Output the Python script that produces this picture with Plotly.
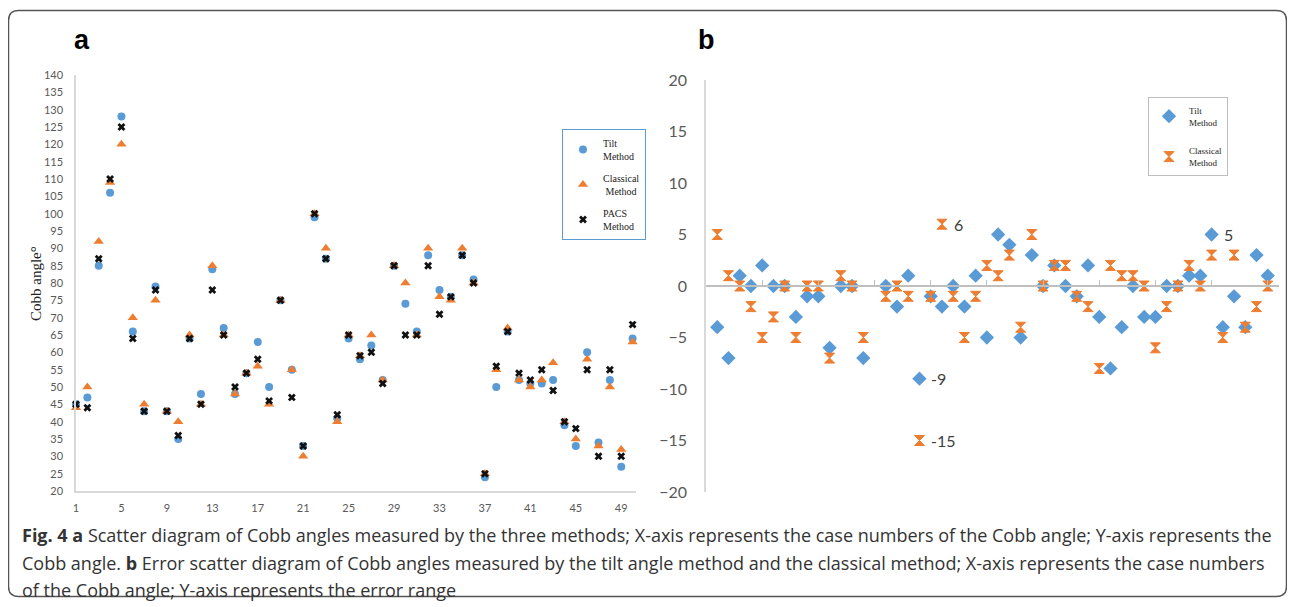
import plotly.graph_objects as go

# page offset (browser body margin) and figure size
OX, OY = 8, 8
W, H = 1287, 599

# ---------------- data ----------------
cases = list(range(1, 51))
tilt = [45, 47, 85, 106, 128, 66, 43, 79, 43, 35, 64, 48, 84, 67, 48, 54, 63, 50, 75, 55,
        33, 99, 87, 41, 64, 58, 62, 52, 85, 74, 66, 88, 78, 76, 88, 81, 24, 50, 66, 52,
        51, 51, 52, 39, 33, 60, 34, 52, 27, 64]
classical = [44, 50, 92, 109, 120, 70, 45, 75, 43, 40, 65, 45, 85, 65, 48, 54, 56, 45, 75, 55,
             30, 100, 90, 40, 65, 59, 65, 52, 85, 80, 65, 90, 76, 75, 90, 80, 25, 55, 67, 52,
             50, 52, 57, 40, 35, 58, 33, 50, 32, 63]
pacs = [45, 44, 87, 110, 125, 64, 43, 78, 43, 36, 64, 45, 78, 65, 50, 54, 58, 46, 75, 47,
        33, 100, 87, 42, 65, 59, 60, 51, 85, 65, 65, 85, 71, 76, 88, 80, 25, 56, 66, 54,
        52, 55, 49, 40, 38, 55, 30, 55, 30, 68]

tilt_err = [-4, -7, 1, 0, 2, 0, 0, -3, -1, -1, -6, 0, 0, -7, None, 0, -2, 1, -9, -1,
            -2, 0, -2, 1, -5, 5, 4, -5, 3, 0, 2, 0, -1, 2, -3, -8, -4, 0, -3, -3,
            0, 0, 1, 1, 5, -4, -1, -4, 3, 1]
classical_err = [5, 1, 0, -2, -5, -3, 0, -5, 0, 0, -7, 1, 0, -5, None, -1, 0, -1, -15, -1,
                 6, -1, -5, -1, 2, 1, 3, -4, 5, 0, 2, 2, -1, -2, -8, 2, 1, 1, 0, -6,
                 -2, 0, 2, 0, 3, -5, 3, -4, -2, 0]

a_xticks = [1, 5, 9, 13, 17, 21, 25, 29, 33, 37, 41, 45, 49]
a_yticks = list(range(20, 141, 5))
b_yticks = list(range(-20, 21, 5))
b_xticks = list(range(5, 51, 5))

# labelled outliers in panel b: (case index, series)
b_labels = [(19, "tilt"), (19, "classical"), (21, "classical"), (45, "tilt")]

BLUE = "#5B9BD5"
ORANGE = "#ED7D31"


def fx(px):
    return (px - OX) / W


def fy(py):
    return 1 - (py - OY) / H


fig = go.Figure()

# ---------------- panel a ----------------
fig.add_trace(go.Scatter(x=cases, y=tilt, mode="markers", name="Tilt<br>Method",
                         marker=dict(symbol="circle", size=8, color=BLUE),
                         xaxis="x", yaxis="y", legend="legend", legendgroup="t",
                         cliponaxis=False))
fig.add_trace(go.Scatter(x=cases, y=classical, mode="markers", name="Classical<br> Method",
                         marker=dict(symbol="triangle-up", size=9, color=ORANGE),
                         xaxis="x", yaxis="y", legend="legend", legendgroup="c",
                         cliponaxis=False))
fig.add_trace(go.Scatter(x=cases, y=pacs, mode="markers", name="PACS<br>Method",
                         marker=dict(symbol="x", size=7, color="#111111"),
                         xaxis="x", yaxis="y", legend="legend", legendgroup="p",
                         cliponaxis=False))

# ---------------- panel b ----------------
fig.add_trace(go.Scatter(x=cases, y=tilt_err, mode="markers", name="Tilt<br>Method",
                         marker=dict(symbol="diamond", size=11, color=BLUE),
                         xaxis="x2", yaxis="y2", legend="legend2", legendgroup="bt",
                         cliponaxis=False))
fig.add_trace(go.Scatter(x=cases, y=classical_err, mode="markers", name="Classical<br>Method",
                         marker=dict(symbol="hourglass", size=10, color=ORANGE,
                                     line=dict(color=ORANGE, width=1)),
                         xaxis="x2", yaxis="y2", legend="legend2", legendgroup="bc",
                         cliponaxis=False))

annotations = []
for idx, series in b_labels:
    val = tilt_err[idx - 1] if series == "tilt" else classical_err[idx - 1]
    annotations.append(dict(x=idx, y=val, xref="x2", yref="y2", text=str(val),
                            showarrow=False, xanchor="left", yanchor="middle", xshift=10,
                            font=dict(family="Lato", size=16, color="#404040")))

# panel letters
annotations.append(dict(x=fx(82), y=fy(40), xref="paper", yref="paper", text="<b>a</b>",
                        showarrow=False, xanchor="center", yanchor="middle",
                        font=dict(family="Liberation Sans", size=27, color="#000")))
annotations.append(dict(x=fx(706), y=fy(40), xref="paper", yref="paper", text="<b>b</b>",
                        showarrow=False, xanchor="center", yanchor="middle",
                        font=dict(family="Liberation Sans", size=27, color="#000")))

# y title of panel a
annotations.append(dict(x=fx(36), y=fy(284), xref="paper", yref="paper", text="Cobb angle°",
                        textangle=-90, showarrow=False, xanchor="center", yanchor="middle",
                        font=dict(family="Liberation Serif", size=15, color="#222")))

# caption
cap_font = dict(family="Open Sans", size=18, color="#333333")
cap_lines = [
    "<b>Fig. 4 a</b> Scatter diagram of Cobb angles measured by the three methods; X-axis represents the case numbers of the Cobb angle; Y-axis represents the",
    "Cobb angle. <b>b</b> Error scatter diagram of Cobb angles measured by the tilt angle method and the classical method; X-axis represents the case numbers",
    "of the Cobb angle; Y-axis represents the error range",
]
for i, line in enumerate(cap_lines):
    annotations.append(dict(x=fx(20), y=fy(535 + i * 27.5), xref="paper", yref="paper",
                            text=line, showarrow=False, xanchor="left", yanchor="middle",
                            font=cap_font))

# rounded frame
x0, y0, x1, y1, r = 8.5, 10.5, 1286.5, 596.5, 10
frame = (f"M {x0 + r},{y0} L {x1 - r},{y0} Q {x1},{y0} {x1},{y0 + r} "
         f"L {x1},{y1 - r} Q {x1},{y1} {x1 - r},{y1} L {x0 + r},{y1} "
         f"Q {x0},{y1} {x0},{y1 - r} L {x0},{y0 + r} Q {x0},{y0} {x0 + r},{y0} Z")


def to_paper_path(path):
    out = []
    for tok in path.split(" "):
        if "," in tok:
            a, b = tok.split(",")
            out.append(f"{fx(float(a)):.5f},{fy(float(b)):.5f}")
        else:
            out.append(tok)
    return " ".join(out)


shapes = [dict(type="path", xref="paper", yref="paper", path=to_paper_path(frame),
               line=dict(color="#555555", width=1.5), fillcolor="rgba(0,0,0,0)", layer="above")]

tickfont_a = dict(family="Lato", size=11, color="#595959")
tickfont_b = dict(family="Lato", size=16, color="#595959")

y2_dom = [fy(492), fy(80)]

fig.update_layout(
    width=W, height=H, margin=dict(l=0, r=0, t=0, b=0, pad=0, autoexpand=False),
    paper_bgcolor="white", plot_bgcolor="white",
    showlegend=True,
    xaxis=dict(domain=[fx(76), fx(636)], range=[1, 50.3], tickvals=a_xticks,
               showline=True, linecolor="#d9d9d9", linewidth=1.5, showgrid=False,
               zeroline=False, ticks="outside", ticklen=6, tickcolor="rgba(0,0,0,0)",
               tickfont=tickfont_a, anchor="y", automargin=False),
    yaxis=dict(domain=[fy(491), fy(75)], range=[20, 140], tickvals=a_yticks,
               showline=True, linecolor="#d9d9d9", linewidth=1.5, showgrid=False,
               zeroline=False, ticks="outside", ticklen=9, tickcolor="rgba(0,0,0,0)",
               tickfont=tickfont_a, anchor="x", automargin=False),
    xaxis2=dict(domain=[fx(706), fx(1279)], range=[0, 51], tickvals=b_xticks,
                showticklabels=False, showline=True, linecolor="#bfbfbf", linewidth=1.5,
                showgrid=False, zeroline=False, ticks="inside", ticklen=5,
                tickcolor="#bfbfbf", anchor="free", position=(y2_dom[0] + y2_dom[1]) / 2,
                automargin=False),
    yaxis2=dict(domain=y2_dom, range=[-20, 20], tickvals=b_yticks,
                showline=True, linecolor="#d9d9d9", linewidth=1.5, showgrid=False,
                zeroline=False, ticks="outside", ticklen=14, tickcolor="rgba(0,0,0,0)",
                tickfont=tickfont_b, anchor="x2", automargin=False),
    legend=dict(x=fx(562), y=fy(129), xanchor="left", yanchor="top",
                bordercolor="#5b9bd5", borderwidth=1, bgcolor="white",
                font=dict(family="Liberation Serif", size=10, color="#222"),
                traceorder="grouped", tracegroupgap=6, itemwidth=30),
    legend2=dict(x=fx(1148), y=fy(97), xanchor="left", yanchor="top",
                 bordercolor="#bfbfbf", borderwidth=1, bgcolor="white",
                 font=dict(family="Liberation Serif", size=9, color="#222"),
                 traceorder="grouped", tracegroupgap=14, itemwidth=30),
    annotations=annotations,
    shapes=shapes,
)

fig.write_html("out.html")
